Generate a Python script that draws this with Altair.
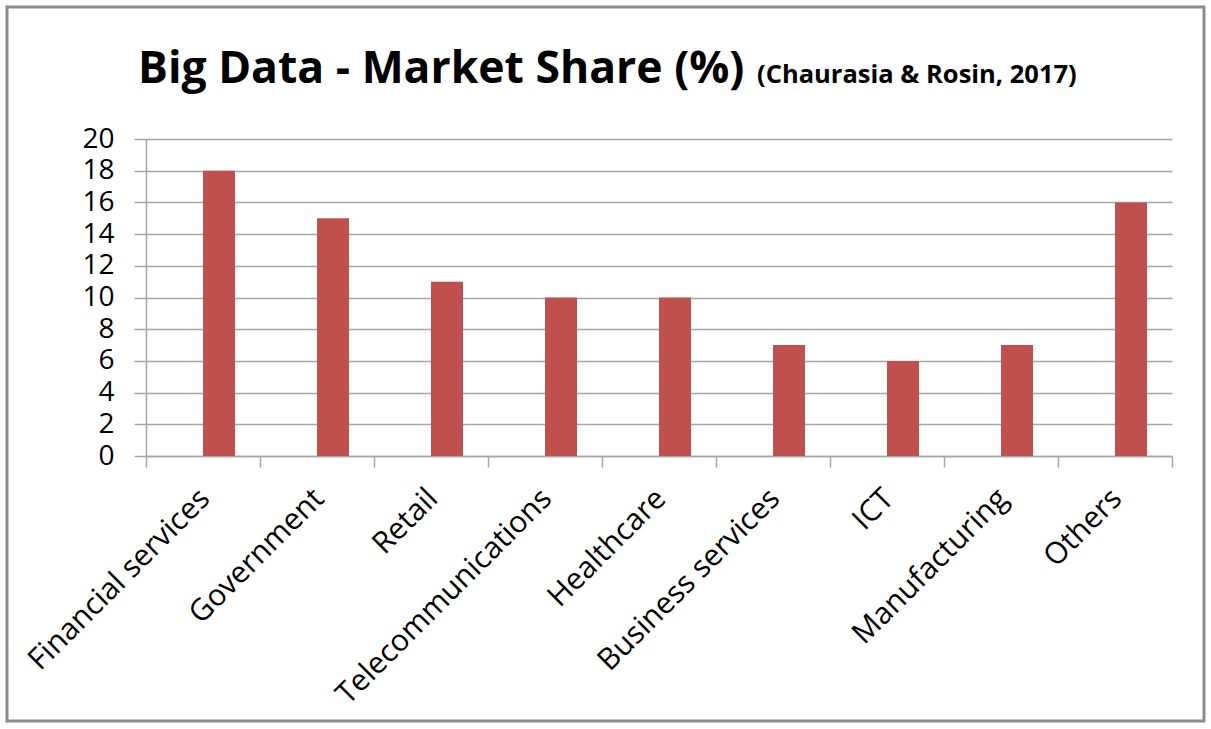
import altair as alt
import pandas as pd

categories = ["Financial services", "Government", "Retail", "Telecommunications",
              "Healthcare", "Business services", "ICT", "Manufacturing", "Others"]
shares = [18, 15, 11, 10, 10, 7, 6, 7, 16]
y_ticks = [0, 2, 4, 6, 8, 10, 12, 14, 16, 18, 20]

title_text = "Big Data - Market Share (%)"
subtitle_text = "(Chaurasia & Rosin, 2017)"

df = pd.DataFrame({"Sector": categories, "Share": shares})

FONT = "Open Sans"
GRID = "#A6A6A6"

bars = alt.Chart(df).mark_bar(color="#C0504D", size=32, xOffset=16).encode(
    x=alt.X("Sector:N", sort=categories,
            scale=alt.Scale(paddingInner=0, paddingOuter=0),
            axis=alt.Axis(title=None, labelAngle=-45, labelAlign="right", labelBaseline="top",
                          labelFont=FONT, labelFontSize=30, labelColor="#000000",
                          labelPadding=16, labelOffset=-9, labelOverlap=False, labelLimit=0,
                          tickBand="extent", tickSize=11, tickColor=GRID, tickWidth=1.5,
                          domainColor=GRID, domainWidth=1.5, grid=False)),
    y=alt.Y("Share:Q", scale=alt.Scale(domain=[0, 20], nice=False),
            axis=alt.Axis(title=None, values=y_ticks, grid=True, gridColor=GRID, gridWidth=1.5,
                          tickSize=12, tickColor=GRID, tickWidth=1.5,
                          domainColor=GRID, domainWidth=1.5,
                          labelFont=FONT, labelFontSize=28, labelColor="#000000",
                          labelPadding=20)),
)

title = alt.Chart(pd.DataFrame({"t": [title_text]})).mark_text(
    font=FONT, fontSize=44.5, fontWeight="bold", align="left", baseline="alphabetic", color="#000000"
).encode(text="t:N", x=alt.value(-8), y=alt.value(-56))

subtitle = alt.Chart(pd.DataFrame({"t": [subtitle_text]})).mark_text(
    font=FONT, fontSize=25.5, fontWeight="bold", align="left", baseline="alphabetic", color="#000000"
).encode(text="t:N", x=alt.value(611), y=alt.value(-56))

frame = alt.Chart(pd.DataFrame({"k": [0]})).mark_rect(
    fill="transparent", stroke="#8C8C8C", strokeWidth=3
).encode(x=alt.value(-139), x2=alt.value(1058), y=alt.value(-132), y2=alt.value(582))

chart = alt.layer(frame, bars, title, subtitle).properties(
    width=1026, height=317,
    autosize=alt.AutoSizeParams(type="none"),
    padding={"left": 146, "top": 139, "right": 39, "bottom": 273},
    background="white",
).configure_view(strokeOpacity=0)

chart.save("out.html", embed_options={"renderer": "svg", "actions": False})
